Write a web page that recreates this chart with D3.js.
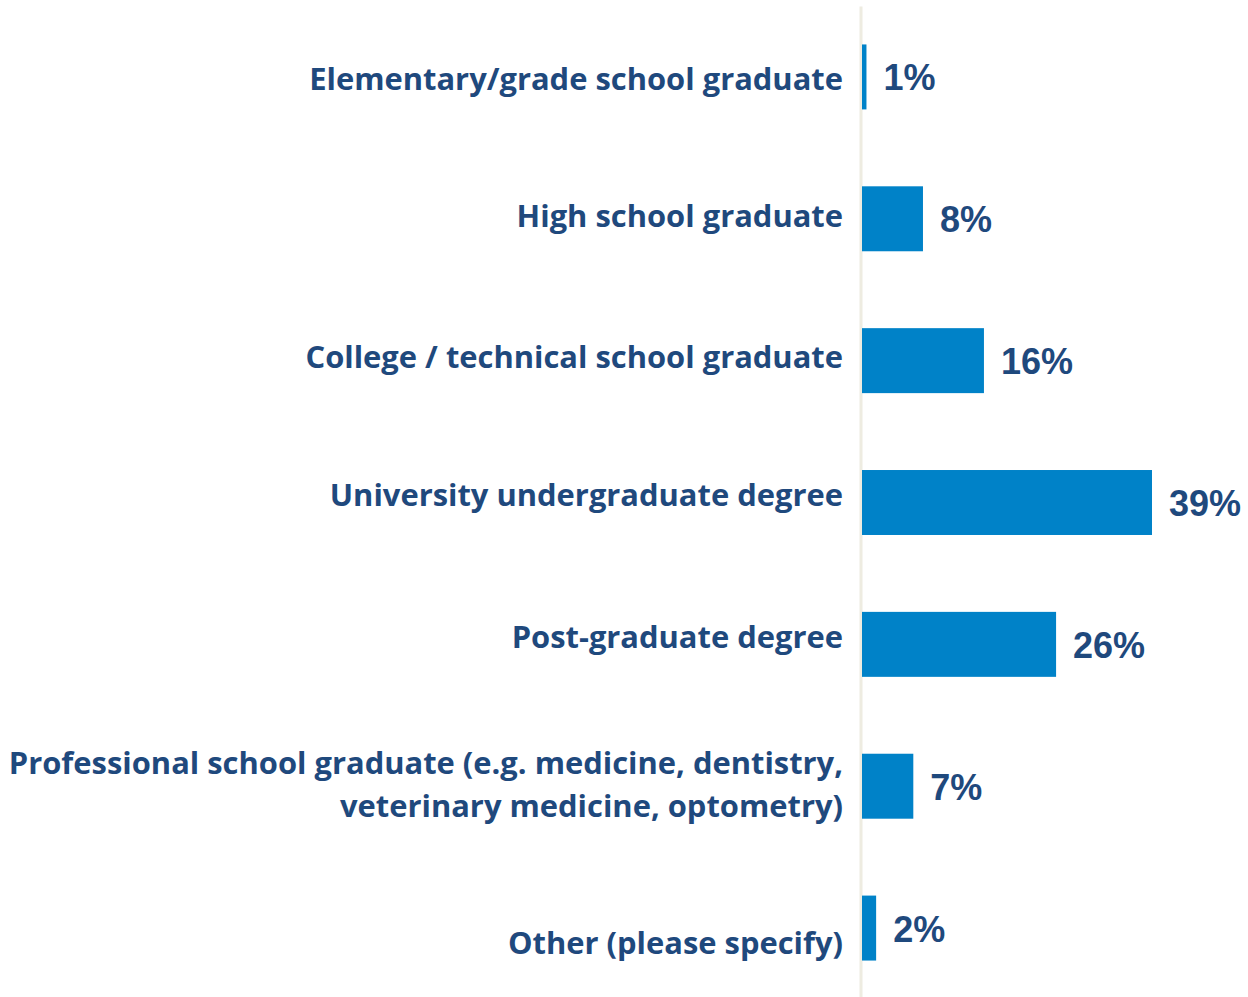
<!DOCTYPE html>
<html>
<head>
<meta charset="utf-8">
<script src="https://cdn.jsdelivr.net/npm/d3@7"></script>
<style>
  html, body { margin: 0; padding: 0; background: #ffffff; }
  svg { display: block; }
</style>
</head>
<body>
<svg id="chart" width="1248" height="997"></svg>
<script>
// ---- data ----
const categories = [
  "Elementary/grade school graduate",
  "High school graduate",
  "College / technical school graduate",
  "University undergraduate degree",
  "Post-graduate degree",
  "Professional school graduate (e.g. medicine, dentistry,|veterinary medicine, optometry)",
  "Other (please specify)"
];
const values = [0.6, 8.2, 16.4, 39, 26.1, 6.9, 1.9];
const valueLabels = ["1%", "8%", "16%", "39%", "26%", "7%", "2%"];

// ---- layout ----
const W = 1248, H = 997;
const x0 = 862;
const labelRight = 843;
const labelDy = [13, 8.5, 7, 3.5, 3.2, 1, 26];   // baseline offset from bar centre
const lineGap = 43;

const svg = d3.select("#chart");

const x = d3.scaleLinear().domain([0, 39]).range([x0, 1152]);
const y = d3.scaleBand()
  .domain(categories)
  .range([6, 999])
  .paddingInner(0.542)
  .paddingOuter(0.271);

// axis line
const axis = d3.axisLeft(y).tickSize(0).tickSizeOuter(0).tickFormat("");
const gAxis = svg.append("g")
  .attr("transform", `translate(${x0 - 1.5},0)`)
  .call(axis);
gAxis.select(".domain").attr("stroke", "#EEECE1").attr("stroke-width", 3);
gAxis.selectAll(".tick").remove();

// bars
svg.append("g").selectAll("rect")
  .data(categories)
  .join("rect")
  .attr("x", x(0))
  .attr("y", d => y(d))
  .attr("width", (d, i) => x(values[i]) - x(0))
  .attr("height", y.bandwidth())
  .attr("fill", "#0082C8");

// category labels
const lab = svg.append("g").selectAll("text")
  .data(categories)
  .join("text")
  .attr("x", labelRight)
  .attr("y", (d, i) => y(d) + y.bandwidth() / 2 + labelDy[i])
  .attr("text-anchor", "end")
  .attr("fill", "#1F497D")
  .style("font-family", "'Open Sans', sans-serif")
  .style("font-weight", 700)
  .style("font-size", "30.9px");

lab.each(function(d) {
  const lines = d.split("|");
  const t = d3.select(this);
  if (lines.length === 1) {
    t.text(d);
  } else {
    const yy = +t.attr("y");
    t.attr("y", null);
    lines.forEach((ln, k) => {
      t.append("tspan")
        .attr("x", labelRight)
        .attr("y", yy - 13 + k * lineGap)
        .text(ln);
    });
  }
});

// value labels
svg.append("g").selectAll("text")
  .data(categories)
  .join("text")
  .attr("x", (d, i) => x(values[i]) + 17)
  .attr("y", d => y(d) + y.bandwidth() / 2 + 13.5)
  .attr("fill", "#1F497D")
  .style("font-family", "'Liberation Sans', Arial, sans-serif")
  .style("font-weight", 700)
  .style("font-size", "36px")
  .text((d, i) => valueLabels[i]);
</script>
</body>
</html>
